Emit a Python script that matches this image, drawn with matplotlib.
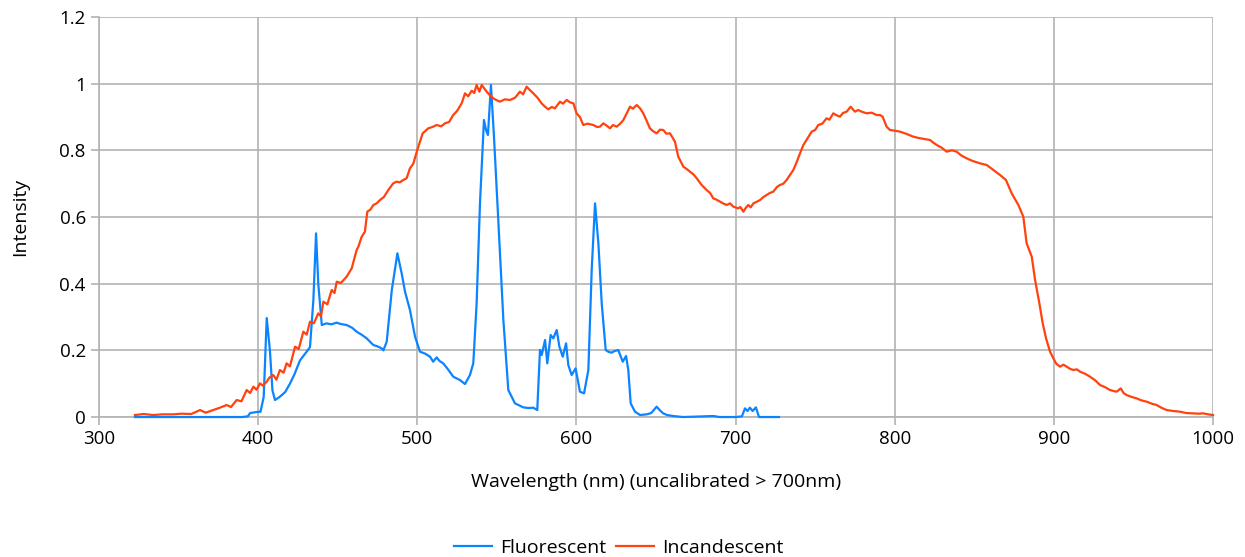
import matplotlib.pyplot as plt

# Fluorescent spectrum: (wavelength nm, intensity)
fluorescent = [
    (322.6, 0), (340, 0), (360, 0), (380, 0), (390, 0), (393.5, 0.002), (395, 0.012), (399, 0.015),
    (401.5, 0.016), (403.5, 0.06), (405.4, 0.297), (407.4, 0.2), (409, 0.08), (410.6, 0.051),
    (413.7, 0.061), (417, 0.075), (420, 0.10), (423, 0.13), (426.3, 0.17), (430.5, 0.196),
    (432.6, 0.21), (434.7, 0.35), (436.4, 0.551), (437.8, 0.40), (440, 0.276), (443, 0.281),
    (446, 0.278), (449.3, 0.283), (452, 0.279), (455.6, 0.276), (459, 0.268), (461.9, 0.256),
    (465, 0.247), (468.2, 0.236), (472.4, 0.216), (475, 0.212), (477.6, 0.206), (478.7, 0.20),
    (480.8, 0.226), (484, 0.381), (487.5, 0.491), (490.2, 0.431), (492.3, 0.376), (495.4, 0.321),
    (498.6, 0.241), (501.7, 0.196), (505, 0.19), (508, 0.181), (510, 0.166), (512.2, 0.179),
    (514, 0.168), (516.3, 0.161), (519, 0.145), (522.6, 0.121), (526.8, 0.111), (530, 0.099),
    (533.1, 0.126), (535.2, 0.161), (537.3, 0.341), (539.4, 0.641), (541.9, 0.891), (543.2, 0.861),
    (544.4, 0.846), (546.3, 0.996), (548.2, 0.841), (550.9, 0.591), (554.1, 0.291), (557.2, 0.081),
    (561.4, 0.041), (566.6, 0.029), (570, 0.027), (572.9, 0.028), (575.4, 0.021), (577.1, 0.201),
    (578.2, 0.186), (580.3, 0.231), (581.7, 0.161), (583.8, 0.246), (585.5, 0.236), (587.6, 0.261),
    (589.3, 0.211), (591.4, 0.181), (593.5, 0.221), (594.9, 0.156), (597.0, 0.126), (599.5, 0.146),
    (602.2, 0.076), (604.8, 0.071), (607.5, 0.141), (609.6, 0.441), (611.7, 0.641), (613.8, 0.521),
    (615.9, 0.341), (618.4, 0.201), (620, 0.196), (622.1, 0.193), (624, 0.198), (626.3, 0.201),
    (629.1, 0.166), (631.2, 0.183), (632.6, 0.141), (634.1, 0.041), (636.8, 0.016), (640, 0.006),
    (644.1, 0.008), (647, 0.012), (650.4, 0.031), (652.5, 0.02), (654.5, 0.011), (657, 0.006),
    (660.8, 0.003), (667, 0), (680, 0.002), (686, 0.003), (690, 0), (700, 0), (704, 0.002),
    (705.9, 0.026), (707.5, 0.018), (709, 0.028), (710.7, 0.018), (712.8, 0.029), (714.7, 0),
    (720, 0), (727.3, 0),
]

# Incandescent spectrum: (wavelength nm, intensity)
incandescent = [
    (322.6, 0.006), (328, 0.009), (334, 0.006), (340, 0.008), (346.7, 0.008), (352, 0.010),
    (358, 0.009), (363.5, 0.021), (367, 0.013), (371.8, 0.021), (376, 0.028), (380.2, 0.036),
    (383, 0.030), (386.5, 0.051), (389.5, 0.047), (392.8, 0.081), (395, 0.072), (397, 0.091),
    (399, 0.082), (401.2, 0.101), (403, 0.094), (405.4, 0.106), (407, 0.118), (409.5, 0.126),
    (411.5, 0.112), (413.7, 0.141), (416, 0.133), (417.9, 0.161), (420, 0.152), (423.2, 0.211),
    (425.5, 0.204), (428.4, 0.256), (430.5, 0.247), (432.6, 0.286), (435, 0.281), (437.8, 0.311),
    (439.5, 0.302), (441, 0.346), (443.5, 0.338), (446.2, 0.381), (448, 0.372), (449.4, 0.406),
    (452, 0.402), (455.6, 0.421), (458.8, 0.446), (461.9, 0.501), (463, 0.511), (465, 0.540),
    (467.1, 0.556), (468.6, 0.616), (470.5, 0.622), (472.4, 0.636), (474.5, 0.641), (476.6, 0.651),
    (479, 0.660), (481.8, 0.681), (484.9, 0.701), (487, 0.706), (489, 0.704), (491.2, 0.711),
    (493.3, 0.716), (495.4, 0.746), (497.5, 0.760), (500, 0.801), (501.7, 0.826), (503.4, 0.851),
    (506.9, 0.866), (509.5, 0.870), (512.2, 0.876), (515, 0.872), (517.4, 0.881), (520, 0.885),
    (522.6, 0.906), (525, 0.918), (527.9, 0.941), (530, 0.971), (532, 0.962), (534.2, 0.979),
    (535.8, 0.972), (537.3, 0.996), (539, 0.976), (540.5, 0.996), (543.6, 0.976), (545.5, 0.966),
    (547.8, 0.956), (550, 0.950), (552, 0.946), (555, 0.953), (558.3, 0.951), (561.5, 0.958),
    (564.5, 0.976), (566.5, 0.968), (568.7, 0.991), (570.5, 0.982), (572.9, 0.971), (575.5, 0.958),
    (578.1, 0.941), (580, 0.932), (582.3, 0.923), (584.5, 0.930), (586.5, 0.926), (589.7, 0.946),
    (591.5, 0.940), (593.9, 0.951), (596, 0.944), (598.1, 0.941), (600.1, 0.911), (602.2, 0.900),
    (604.3, 0.876), (607, 0.880), (610.6, 0.876), (613, 0.870), (614.8, 0.871), (616.9, 0.881),
    (619, 0.874), (621.1, 0.866), (623, 0.876), (625.3, 0.871), (627.5, 0.880), (629.5, 0.891),
    (631.5, 0.910), (633.7, 0.931), (635.5, 0.925), (637.9, 0.936), (640, 0.926), (642, 0.911),
    (644, 0.890), (646.2, 0.866), (648, 0.858), (650.4, 0.851), (652.5, 0.862), (654.6, 0.861),
    (656.5, 0.850), (658.8, 0.851), (661.9, 0.826), (664, 0.781), (667.2, 0.751), (669, 0.745),
    (671.4, 0.736), (673.5, 0.728), (675.6, 0.716), (678.7, 0.696), (681.8, 0.681), (684, 0.672),
    (686, 0.656), (688, 0.652), (690.2, 0.646), (692.5, 0.640), (694.4, 0.636), (696.5, 0.641),
    (698.6, 0.631), (700.5, 0.628), (701.7, 0.626), (703, 0.630), (704.9, 0.616), (706.5, 0.628),
    (708, 0.636), (709.5, 0.629), (711.2, 0.641), (713, 0.645), (715.4, 0.651), (717.5, 0.660),
    (719.5, 0.666), (721.5, 0.672), (723.7, 0.676), (726, 0.690), (727.9, 0.696), (730, 0.700),
    (732.1, 0.711), (734, 0.725), (736.3, 0.741), (738.5, 0.766), (740.5, 0.791), (742.5, 0.815),
    (744.6, 0.831), (747.8, 0.856), (750, 0.861), (752, 0.876), (754.5, 0.880), (757.2, 0.896),
    (759, 0.892), (761.4, 0.911), (763.5, 0.905), (765.6, 0.901), (767.5, 0.912), (769.8, 0.916),
    (772.3, 0.931), (775, 0.916), (777, 0.921), (779.2, 0.916), (782.3, 0.911), (785.5, 0.913),
    (788.6, 0.906), (790.7, 0.906), (792.4, 0.901), (794.9, 0.871), (797, 0.861), (800, 0.859),
    (803.3, 0.856), (807, 0.850), (811.7, 0.841), (815, 0.837), (818.5, 0.834), (822.2, 0.831),
    (824, 0.824), (826.4, 0.816), (829.5, 0.808), (832.6, 0.796), (836, 0.800), (838.9, 0.796),
    (842, 0.784), (845.2, 0.776), (849, 0.768), (853.6, 0.761), (857.8, 0.756), (862, 0.741),
    (866.2, 0.726), (869.9, 0.711), (873.5, 0.671), (877.7, 0.636), (880.8, 0.601), (882.9, 0.521),
    (886.1, 0.481), (888.2, 0.411), (890.9, 0.341), (893, 0.281), (895.1, 0.236), (897.6, 0.196),
    (899.7, 0.176), (901.5, 0.160), (903.9, 0.151), (906, 0.157), (908.1, 0.151), (910, 0.145),
    (912.3, 0.141), (914.5, 0.143), (916.5, 0.136), (919.5, 0.130), (922.7, 0.121), (926, 0.110),
    (929, 0.096), (932, 0.090), (935.3, 0.081), (937.5, 0.078), (939.5, 0.076), (942, 0.086),
    (943.8, 0.072), (945.7, 0.066), (949, 0.060), (952, 0.056), (955, 0.050), (958.3, 0.046),
    (961.5, 0.040), (964.6, 0.036), (967.5, 0.028), (970.9, 0.021), (975, 0.018), (979.3, 0.016),
    (983, 0.012), (987.6, 0.011), (991, 0.010), (993.9, 0.011), (997, 0.008), (1000, 0.006),
]

y_ticks = [0, 0.2, 0.4, 0.6, 0.8, 1, 1.2]
y_labels = ['0', '0.2', '0.4', '0.6', '0.8', '1', '1.2']

plt.rcParams['font.family'] = ['Open Sans', 'DejaVu Sans']

fig = plt.figure(figsize=(12.45, 5.57), dpi=100)
ax = fig.add_axes([0.0795, 0.2513, 0.8948, 0.7182])

fx, fy = zip(*fluorescent)
ix, iy = zip(*incandescent)
ax.plot(fx, fy, color='#0a84ff', lw=1.6, label='Fluorescent', zorder=3, clip_on=False)
ax.plot(ix, iy, color='#ff420e', lw=1.6, label='Incandescent', zorder=3, clip_on=False)

ax.set_xlim(300, 1000)
ax.set_ylim(0, 1.2)
ax.set_xticks(range(300, 1001, 100))
ax.set_yticks(y_ticks)
ax.set_yticklabels(y_labels)
ax.grid(True, color='#b3b3b3', lw=1.2)
ax.set_axisbelow(True)
for s in ['top', 'right']:
    ax.spines[s].set_visible(False)
for s in ['left', 'bottom']:
    ax.spines[s].set_color('#b3b3b3')
    ax.spines[s].set_linewidth(1.2)
ax.tick_params(axis='both', colors='#b3b3b3', labelcolor='black', labelsize=13.5, length=6, width=1.2)

ax.set_xlabel('Wavelength (nm) (uncalibrated > 700nm)', fontsize=14, labelpad=18)
ax.set_ylabel('Intensity', fontsize=14, labelpad=22)

fig.legend(loc='center', bbox_to_anchor=(0.497, 0.017), ncol=2, frameon=False, fontsize=14,
           handlelength=1.95, handletextpad=0.4, columnspacing=0.5)

fig.savefig('out.png', dpi=100)
